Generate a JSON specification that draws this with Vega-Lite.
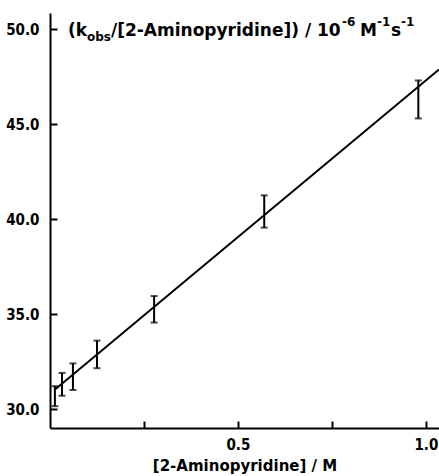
{
  "$schema": "https://vega.github.io/schema/vega-lite/v6.json",
  "width": 389,
  "height": 415,
  "autosize": "none",
  "padding": {"left": 50, "top": 13, "right": 0, "bottom": 48},
  "background": "white",
  "config": {
    "view": {"stroke": null},
    "font": "DejaVu Sans",
    "axis": {
      "domainColor": "black",
      "domainWidth": 2,
      "tickColor": "black",
      "tickWidth": 2,
      "grid": false,
      "labelColor": "black",
      "labelFont": "DejaVu Sans Condensed",
      "labelFontWeight": "bold",
      "labelFontSize": 15,
      "titleColor": "black",
      "titleFont": "DejaVu Sans",
      "titleFontWeight": "bold",
      "titleFontSize": 15
    },
    "text": {"font": "DejaVu Sans", "fontWeight": "bold", "color": "black", "align": "left", "baseline": "middle"}
  },
  "resolve": {"axis": {"x": "independent", "y": "independent"}},
  "datasets": {
    "points": [
      {"conc": 0.013, "k_low": 30.15, "k_high": 31.2},
      {"conc": 0.032, "k_low": 30.7, "k_high": 31.9},
      {"conc": 0.061, "k_low": 31.0, "k_high": 32.4},
      {"conc": 0.125, "k_low": 32.15, "k_high": 33.6},
      {"conc": 0.277, "k_low": 34.55, "k_high": 35.95},
      {"conc": 0.57, "k_low": 39.55, "k_high": 41.25},
      {"conc": 0.98, "k_low": 45.3, "k_high": 47.3}
    ],
    "fit": [
      {"conc": 0.015, "k": 31.05},
      {"conc": 1.035, "k": 47.88}
    ]
  },
  "layer": [
    {
      "data": {"name": "fit"},
      "mark": {"type": "line", "color": "black", "strokeWidth": 2, "clip": true},
      "encoding": {
        "x": {"field": "conc", "type": "quantitative",
          "scale": {"domain": [0, 1.035], "nice": false, "zero": false},
          "axis": {
            "orient": "bottom",
            "title": "[2-Aminopyridine] / M",
            "values": [0.25, 0.5, 0.75, 1.0],
            "labelExpr": "datum.value == 0.5 || datum.value == 1 ? format(datum.value, '.1f') : ''",
            "ticks": false,
            "tickSize": 0,
            "labelPadding": 9,
            "labelFlush": false,
            "labelBound": false,
            "titlePadding": 6
          }
        },
        "y": {"field": "k", "type": "quantitative",
          "scale": {"domain": [29, 50.85], "nice": false, "zero": false},
          "axis": {
            "orient": "left",
            "title": null,
            "values": [30, 35, 40, 45, 50],
            "format": ".1f",
            "ticks": false,
            "tickSize": 0,
            "labelPadding": 11
          }
        }
      }
    },
    {
      "data": {"name": "points"},
      "mark": {"type": "rule", "color": "black", "strokeWidth": 2},
      "encoding": {
        "x": {"field": "conc", "type": "quantitative",
          "scale": {"domain": [0, 1.035], "nice": false, "zero": false},
          "axis": {
            "orient": "bottom",
            "offset": -7,
            "title": null,
            "domain": false,
            "labels": false,
            "ticks": true,
            "tickSize": 7,
            "values": [0.25, 0.5, 0.75, 1.0]
          }
        },
        "y": {"field": "k_low", "type": "quantitative",
          "scale": {"domain": [29, 50.85], "nice": false, "zero": false},
          "axis": {
            "orient": "left",
            "offset": -7,
            "title": null,
            "domain": false,
            "labels": false,
            "ticks": true,
            "tickSize": 7,
            "values": [30, 35, 40, 45, 50]
          }
        },
        "y2": {"field": "k_high"}
      }
    },
    {
      "data": {"name": "points"},
      "mark": {"type": "tick", "color": "black", "orient": "horizontal", "size": 7, "thickness": 2},
      "encoding": {
        "x": {"field": "conc", "type": "quantitative", "axis": null},
        "y": {"field": "k_low", "type": "quantitative", "axis": null}
      }
    },
    {
      "data": {"name": "points"},
      "mark": {"type": "tick", "color": "black", "orient": "horizontal", "size": 7, "thickness": 2},
      "encoding": {
        "x": {"field": "conc", "type": "quantitative", "axis": null},
        "y": {"field": "k_high", "type": "quantitative", "axis": null}
      }
    },
    {
      "data": {"values": [{"t": "(k"}]},
      "mark": {"type": "text", "dx": 18, "dy": 2, "fontSize": 17},
      "encoding": {"x": {"datum": 0, "type": "quantitative", "axis": null}, "y": {"datum": 50, "type": "quantitative", "axis": null}, "text": {"field": "t"}}
    },
    {
      "data": {"values": [{"t": "obs"}]},
      "mark": {"type": "text", "dx": 37, "dy": 8, "fontSize": 12},
      "encoding": {"x": {"datum": 0, "type": "quantitative", "axis": null}, "y": {"datum": 50, "type": "quantitative", "axis": null}, "text": {"field": "t"}}
    },
    {
      "data": {"values": [{"t": "/[2-Aminopyridine]) / 10"}]},
      "mark": {"type": "text", "dx": 61, "dy": 2, "fontSize": 17},
      "encoding": {"x": {"datum": 0, "type": "quantitative", "axis": null}, "y": {"datum": 50, "type": "quantitative", "axis": null}, "text": {"field": "t"}}
    },
    {
      "data": {"values": [{"t": "-6"}]},
      "mark": {"type": "text", "dx": 292, "dy": -7, "fontSize": 12},
      "encoding": {"x": {"datum": 0, "type": "quantitative", "axis": null}, "y": {"datum": 50, "type": "quantitative", "axis": null}, "text": {"field": "t"}}
    },
    {
      "data": {"values": [{"t": "M"}]},
      "mark": {"type": "text", "dx": 310, "dy": 2, "fontSize": 17},
      "encoding": {"x": {"datum": 0, "type": "quantitative", "axis": null}, "y": {"datum": 50, "type": "quantitative", "axis": null}, "text": {"field": "t"}}
    },
    {
      "data": {"values": [{"t": "-1"}]},
      "mark": {"type": "text", "dx": 327, "dy": -7, "fontSize": 12},
      "encoding": {"x": {"datum": 0, "type": "quantitative", "axis": null}, "y": {"datum": 50, "type": "quantitative", "axis": null}, "text": {"field": "t"}}
    },
    {
      "data": {"values": [{"t": "s"}]},
      "mark": {"type": "text", "dx": 341, "dy": 2, "fontSize": 17},
      "encoding": {"x": {"datum": 0, "type": "quantitative", "axis": null}, "y": {"datum": 50, "type": "quantitative", "axis": null}, "text": {"field": "t"}}
    },
    {
      "data": {"values": [{"t": "-1"}]},
      "mark": {"type": "text", "dx": 351, "dy": -7, "fontSize": 12},
      "encoding": {"x": {"datum": 0, "type": "quantitative", "axis": null}, "y": {"datum": 50, "type": "quantitative", "axis": null}, "text": {"field": "t"}}
    }
  ]
}
